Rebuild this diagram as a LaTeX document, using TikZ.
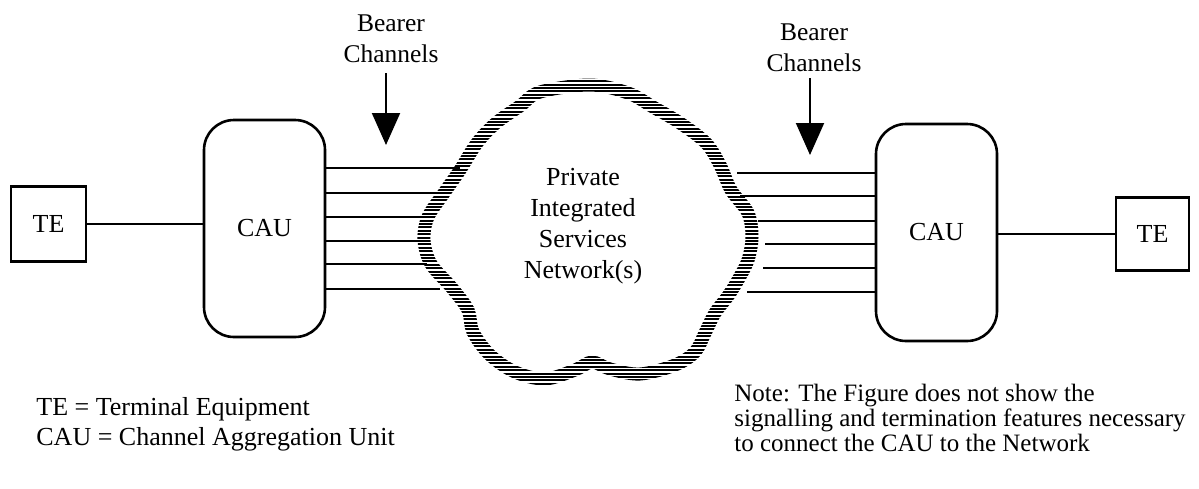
\documentclass[tikz,border=0pt]{standalone}
\usepackage{fontspec}
\setmainfont{Liberation Serif}
\usetikzlibrary{arrows.meta,positioning}
\begin{document}
\begin{tikzpicture}[x=0.5pt,y=-0.5pt,
  tebox/.style={draw,line width=1.3pt,minimum width=37.5pt,minimum height=37.5pt,inner sep=0pt,font=\fontsize{13}{15}\selectfont},
  caubox/.style={draw,line width=1.3pt,rounded corners=15pt,minimum width=60.5pt,minimum height=108.5pt,inner sep=0pt,font=\fontsize{13}{15}\selectfont},
  bearer/.style={align=center,inner sep=0pt,font=\fontsize{12.75}{15.5}\selectfont},
  chan/.style={line width=1pt},
  bigarrow/.style={line width=1pt,-{Triangle[width=14pt,length=16pt]}}]
  \useasboundingbox (0,0) rectangle (1199,488);
  % the cloud, a thick band cut into stripes
  \draw[line width=6.5pt] plot[smooth cycle,tension=0.55] coordinates {
    (540,92) (590,85) (628,93) (653,107) (680,123) (706,143) (720,165)
    (731,190) (748,213) (752,237) (748,260) (738,280) (728,296) (715,313)
    (705,333) (695,352) (675,365) (640,374) (610,369) (592,362) (575,370)
    (545,379) (515,372) (490,355) (473,332) (468,310) (452,288) (431,264)
    (424,240) (428,217) (444,193) (460,170) (477,143) (496,123) (520,106)};
  \foreach \y in {76,79.4,...,392}
    \draw[white,line width=0.7pt] (405,\y) -- (770,\y);
  \node[align=center,inner sep=0pt,font=\fontsize{13}{15.5}\selectfont] (pisn) at (583,226)
    {Private\\Integrated\\Services\\Network(s)};

  \node[tebox] (tel) at (48.5,224) {TE};
  \node[caubox] (caul) at (264.5,228.5) {CAU};
  \node[caubox] (caur) at (936.5,232.5) {CAU};
  \node[tebox,minimum width=36.5pt,minimum height=36.5pt] (ter) at (1152.5,234) {TE};
  \draw[line width=1pt] (tel) -- (tel -| caul.west);
  \draw[line width=1pt] (ter) -- (ter -| caur.east);

  \foreach \y/\xe in {168/460,193/443,217/425,241/418,264/427,289/440}
    \draw[chan] (caul.east |- 0,\y) -- (\xe,\y);
  \foreach \y/\xs in {173/737,196/740,221/758,244/765,268/763,292/747}
    \draw[chan] (\xs,\y) -- (caur.west |- 0,\y);

  \node[bearer,anchor=south] (bearl) at (391,63) {Bearer\\Channels};
  \node[bearer,anchor=south] (bearr) at (814,72) {Bearer\\Channels};
  \coordinate (tipl) at (386,145);
  \coordinate (tipr) at (810,155);
  \draw[bigarrow] (tipl |- 0,73) -- (tipl);
  \draw[bigarrow] (tipr |- 0,78) -- (tipr);

  \node[align=left,inner sep=0pt,anchor=north west,font=\fontsize{13}{15}\selectfont] (legend) at (36,397)
    {TE = Terminal Equipment\\CAU = Channel Aggregation Unit};
  \node[align=left,inner sep=0pt,anchor=north west,font=\fontsize{12.5}{11.25}\selectfont] (note) at (734,384)
    {Note: The Figure does not show the\\signalling and termination features necessary\\to connect the CAU to the Network};
\end{tikzpicture}
\end{document}
